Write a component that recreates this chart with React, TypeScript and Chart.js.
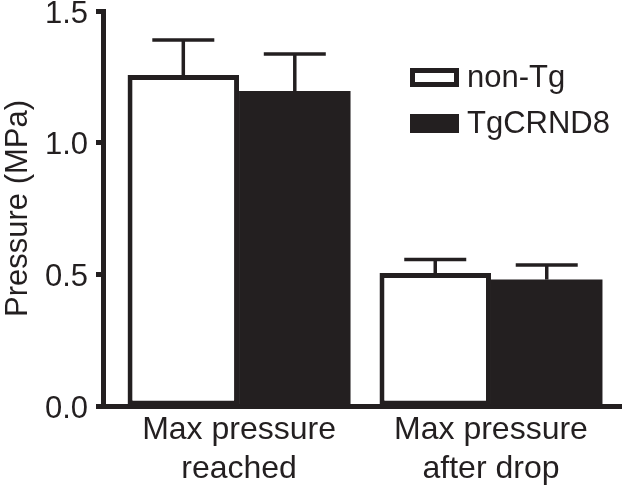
import React, { useEffect, useRef } from "react";
import { Chart, registerables } from "chart.js";

Chart.register(...registerables);

const categories: string[][] = [
  ["Max pressure", "reached"],
  ["Max pressure", "after drop"],
];
const seriesNames = ["non-Tg", "TgCRND8"];
const nonTgValues = [1.257, 0.505];
const nonTgErrors = [0.133, 0.051];
const tgValues = [1.196, 0.48];
const tgErrors = [0.141, 0.055];
const yTicks = [0, 0.5, 1.0, 1.5];

const INK = "#231f20";
const FONT = "'Liberation Sans', Arial, Helvetica, sans-serif";

const errorBarPlugin = {
  id: "errorBars",
  afterDatasetsDraw(chart: any) {
    const ctx = chart.ctx;
    const yScale = chart.scales.y;
    chart.data.datasets.forEach((ds: any, i: number) => {
      const meta = chart.getDatasetMeta(i);
      meta.data.forEach((bar: any, j: number) => {
        const v = ds.data[j].y;
        const e = ds.errors[j];
        const yTop = yScale.getPixelForValue(v + e);
        const yBase = yScale.getPixelForValue(v);
        ctx.save();
        ctx.strokeStyle = INK;
        ctx.lineCap = "butt";
        ctx.lineWidth = 3.5;
        ctx.beginPath();
        ctx.moveTo(bar.x, yBase);
        ctx.lineTo(bar.x, yTop);
        ctx.stroke();
        ctx.lineWidth = 3.5;
        ctx.beginPath();
        ctx.moveTo(bar.x - 31, yTop);
        ctx.lineTo(bar.x + 31, yTop);
        ctx.stroke();
        ctx.restore();
      });
    });
  },
};

const legendPlugin = {
  id: "customLegend",
  afterDraw(chart: any) {
    const ctx = chart.ctx;
    const area = chart.chartArea;
    const x0 = area.right - 212;
    const y0 = area.top + 57;
    chart.data.datasets.forEach((ds: any, i: number) => {
      const y = y0 + i * 46;
      ctx.save();
      ctx.fillStyle = INK;
      ctx.fillRect(x0, y, 49, 19);
      if (ds.backgroundColor !== INK) {
        ctx.fillStyle = ds.backgroundColor;
        ctx.fillRect(x0 + 5, y + 5, 39, 9);
      }
      ctx.fillStyle = INK;
      ctx.font = `31px ${FONT}`;
      ctx.textBaseline = "middle";
      ctx.textAlign = "left";
      ctx.fillText(ds.label, x0 + 57, y + 10);
      ctx.restore();
    });
  },
};

export default function App() {
  const ref = useRef<HTMLCanvasElement | null>(null);
  useEffect(() => {
    document.body.style.margin = "0";
    if (!ref.current) return;
    const chart = new Chart(ref.current, {
      type: "bar",
      data: {
        datasets: [
          {
            label: seriesNames[0],
            data: nonTgValues.map((v, i) => ({ x: i + 1, y: v })),
            errors: nonTgErrors,
            backgroundColor: "#ffffff",
            borderColor: INK,
            borderWidth: 5,
            borderSkipped: false,
          } as any,
          {
            label: seriesNames[1],
            data: tgValues.map((v, i) => ({ x: i + 1, y: v })),
            errors: tgErrors,
            backgroundColor: INK,
            borderColor: INK,
            borderWidth: 0,
            borderSkipped: false,
          } as any,
        ],
      },
      options: {
        animation: false,
        responsive: false,
        devicePixelRatio: 1,
        layout: { padding: { top: 11, right: 0, left: 0, bottom: 0 } },
        datasets: { bar: { barPercentage: 1, categoryPercentage: 0.885 } },
        plugins: { legend: { display: false }, tooltip: { enabled: false } },
        scales: {
          x: {
            type: "linear",
            min: 0.46,
            max: 2.52,
            offset: false,
            grid: { display: true, drawOnChartArea: false, drawTicks: false, offset: false, color: INK },
            border: { display: true, width: 5, color: INK },
            afterBuildTicks: (scale: any) => {
              scale.ticks = categories.map((_, i) => ({ value: i + 1 }));
            },
            afterFit: (scale: any) => {
              scale.height = 81;
              scale.paddingLeft = 0;
              scale.paddingRight = 0;
            },
            ticks: {
              autoSkip: false,
              maxRotation: 0,
              padding: 5,
              color: INK,
              font: { family: FONT, size: 32, lineHeight: 1.22 },
              callback: (v: any) => categories[Math.round(Number(v)) - 1] ?? "",
            },
          },
          y: {
            min: 0,
            max: 1.5,
            afterBuildTicks: (scale: any) => {
              scale.ticks = yTicks.map((v) => ({ value: v }));
            },
            afterFit: (scale: any) => {
              scale.width = 103;
              scale.paddingTop = 0;
              scale.paddingBottom = 0;
            },
            grid: { display: true, drawOnChartArea: false, drawTicks: true, tickLength: 7, tickWidth: 5, color: INK },
            border: { display: true, width: 5, color: INK },
            ticks: {
              padding: 8,
              labelOffset: 3,
              color: INK,
              font: { family: FONT, size: 31 },
              callback: (v: any) => Number(v).toFixed(1),
            },
            title: {
              display: true,
              text: "Pressure (MPa)",
              color: INK,
              padding: { top: 0, bottom: 0 },
              font: { family: FONT, size: 31 },
            },
          },
        },
      } as any,
      plugins: [errorBarPlugin, legendPlugin],
    });
    return () => chart.destroy();
  }, []);
  return (
    <div style={{ width: 622, height: 487 }}>
      <canvas ref={ref} width={622} height={487} />
    </div>
  );
}
